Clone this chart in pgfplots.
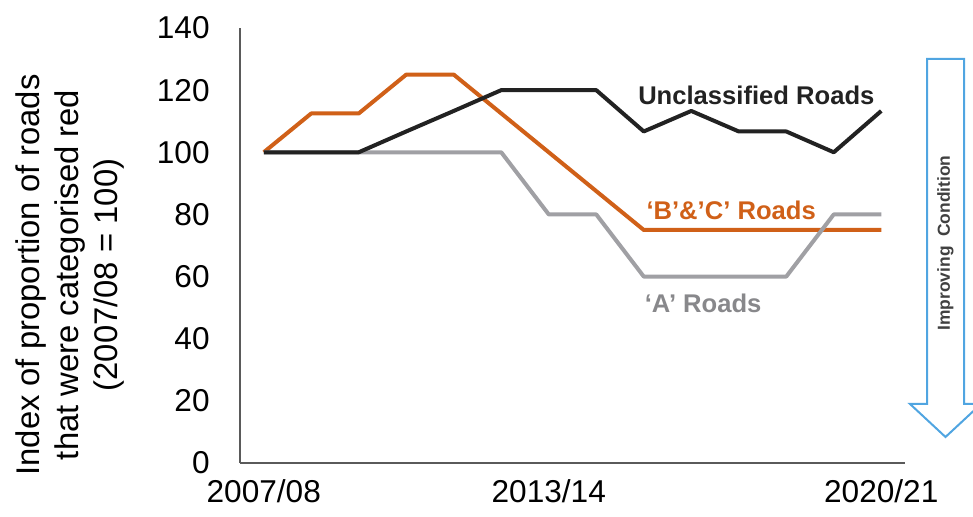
\documentclass[border=0pt]{standalone}
\usepackage{fontspec}
\setmainfont{Liberation Sans}
\usepackage{pgfplots}
\pgfplotsset{compat=1.18}
\definecolor{orng}{RGB}{208,96,24}
\definecolor{gry}{RGB}{160,160,164}
\definecolor{blk}{RGB}{34,34,34}
\definecolor{arrowblue}{RGB}{80,165,225}
\definecolor{axisgray}{RGB}{90,90,90}
\definecolor{txtgray}{RGB}{64,64,64}
\begin{document}
\begin{tikzpicture}[x=0.5pt,y=0.5pt]
\useasboundingbox (0,0) rectangle (973,517);
\begin{axis}[
  at={(120pt,27pt)}, anchor=south west,
  scale only axis, width=332.5pt, height=217.5pt,
  xmin=-0.5, xmax=13.5, ymin=0, ymax=140,
  axis lines*=left,
  axis line style={axisgray, line width=0.75pt},
  xtick={0,6,13}, xticklabels={2007/08,2013/14,2020/21},
  ytick={0,20,...,140},
  major tick length=0pt,
  tick label style={font=\fontsize{15.8}{18}\selectfont, text=black},
  yticklabel style={inner sep=0pt, xshift=-15pt},
  xticklabel style={inner sep=0pt, yshift=-8pt},
  /pgf/number format/assume math mode=true,
  clip=false,
  line join=round,
]
\addplot[orng, line width=2pt] coordinates {(0,100)(1,112.5)(2,112.5)(3,125)(4,125)(5,112.5)(6,100)(7,87.5)(8,75)(9,75)(10,75)(11,75)(12,75)(13,75)};
\addplot[gry, line width=2pt] coordinates {(0,100)(1,100)(2,100)(3,100)(4,100)(5,100)(6,80)(7,80)(8,60)(9,60)(10,60)(11,60)(12,80)(13,80)};
\addplot[blk, line width=2pt] coordinates {(0,100)(1,100)(2,100)(3,106.7)(4,113.3)(5,120)(6,120)(7,120)(8,106.7)(9,113.3)(10,106.7)(11,106.7)(12,100)(13,113.3)};
\node[font=\fontsize{12.8}{15}\selectfont\bfseries, text=blk] at (axis cs:10.37,118.4) {Unclassified Roads};
\node[font=\fontsize{12.8}{15}\selectfont\bfseries, text=orng] at (axis cs:9.84,81.4) {‘B’\&’C’ Roads};
\node[font=\fontsize{12.8}{15}\selectfont\bfseries, text=gry!85!black] at (axis cs:9.25,51.5) {‘A’ Roads};
\end{axis}
\node[rotate=90, align=center, font=\fontsize{16.4}{19.5}\selectfont] at (70,242) {Index of proportion of roads\\that were categorised red\\(2007/08 = 100)};
\draw[arrowblue, line width=1pt, line join=miter] (927,458) -- (964,458) -- (964,113) -- (981,113) -- (945.5,80) -- (910,113) -- (927,113) -- cycle;
\node[rotate=90, font=\fontsize{8.7}{11}\selectfont\bfseries, text=txtgray] at (945.5,274) {Improving\ \ Condition};
\end{tikzpicture}
\end{document}
